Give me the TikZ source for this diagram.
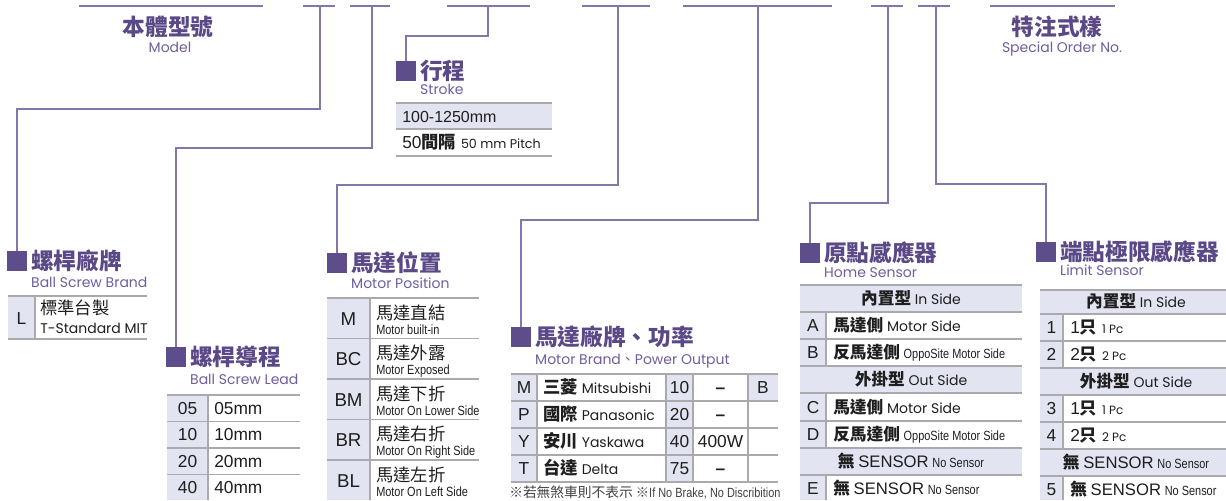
\documentclass[tikz,border=0pt]{standalone}
\usepackage{fontspec}
\setmainfont{Liberation Sans}
\newfontfamily\zh{Noto Sans CJK TC}
\newfontfamily\geo{Poppins}
\newfontfamily\nar[FakeStretch=0.82]{Liberation Sans}
\usepackage{tikz}
\usetikzlibrary{positioning}
\definecolor{headc}{HTML}{5A4887}
\definecolor{subc}{HTML}{6E5E9E}
\definecolor{wirec}{HTML}{8576A9}
\definecolor{boxc}{HTML}{5E4D8B}
\definecolor{rulec}{HTML}{A9A9AE}
\definecolor{palec}{HTML}{E3E4F1}
\definecolor{inkc}{HTML}{1E1E1E}
\newcommand{\fsz}[1]{\fontsize{#1}{#1}\selectfont}
\tikzset{
  topbar/.style={draw=wirec, line width=1.3pt},
  wire/.style={draw=wirec, line width=1.1pt},
  sq/.style={fill=boxc, minimum size=14.5pt, inner sep=0pt},
  vc/.style={text height=#1, text depth=0pt, inner sep=0pt},
  secname/.style={text=headc, font=\zh\bfseries\fsz{17}, vc=12.2pt},
  secsub/.style={text=subc, font=\geo\fsz{10.5}, vc=7.4pt},
  rowrule/.style={draw=rulec, line width=1.1pt},
  colrule/.style={draw=rulec, line width=1.1pt},
  keytxt/.style={text=inkc, font=\fsz{13}, vc=9.4pt},
  cn/.style={text=inkc, font=\zh\fsz{13}, vc=9.4pt},
  en/.style={text=inkc, font=\geo\fsz{10.5}, vc=7.4pt},
  nr/.style={text=inkc, font=\nar\fsz{10}, vc=7.2pt}
}
\newcommand{\Heading}[6]{% name, x, y, chinese, english, gap
  \node[sq] (#1) at (#2,#3) {};
  \node[secname, right=3pt of #1] (#1-zh) {#4};
  \node[secsub, anchor=west] (#1-en) at ([yshift=-#6*0.75pt]#1-zh.west) {#5};
}

\begin{document}
\begin{tikzpicture}[x=0.75pt, y=-0.75pt]
  \useasboundingbox (0,0) rectangle (1226,500);

  % code bars along the top
  \foreach \a/\b in {79/263, 303/335, 350/390, 447/530, 582/650, 683/832, 871/903, 918/950, 990/1115}
    \draw[topbar] (\a,6) -- (\b,6);
  \node[secname] (model-zh) at (168,27) {本體型號};
  \node[secsub] (model-en) at (170,48) {Model};
  \node[secname] (spec-zh) at (1057,27) {特注式樣};
  \node[secsub] (spec-en) at (1062,48) {Special Order No.};

  % section headings
  \Heading{brand}{17}{261}{螺桿廠牌}{Ball Screw Brand}{22}
  \Heading{lead}{176}{357}{螺桿導程}{Ball Screw Lead}{23}
  \Heading{stroke}{406}{71}{行程}{Stroke}{19}
  \Heading{mpos}{337}{263}{馬達位置}{Motor Position}{21}
  \Heading{mbrand}{521}{337}{馬達廠牌、功率}{Motor Brand{\zh 、}Power Output}{23}
  \Heading{home}{810}{253}{原點感應器}{Home Sensor}{20}
  \Heading{limit}{1046}{252}{端點極限感應器}{Limit Sensor}{19}

  % drops from the bars
  \coordinate (t-brand) at (320,6);
  \coordinate (t-lead) at (372,6);
  \coordinate (t-stroke) at (488,6);
  \coordinate (t-mpos) at (618,6);
  \coordinate (t-mbrand) at (758,6);
  \coordinate (t-home) at (888,6);
  \coordinate (t-limit) at (936,6);
  \draw[wire] (t-brand) -- ++(0,103) -| (brand.north);
  \draw[wire] (t-lead) -- ++(0,142) -| (lead.north);
  \draw[wire] (t-stroke) -- ++(0,30) -| (stroke.north);
  \draw[wire] (t-mpos) -- ++(0,179) -| (mpos.north);
  \draw[wire] (t-mbrand) -- ++(0,214) -| (mbrand.north);
  \draw[wire] (t-home) -- ++(0,197) -| (home.north);
  \draw[wire] (t-limit) -- ++(0,178) -| (limit.north);

  % ball screw brand
  \fill[palec] (8,296) rectangle (35,339);
  \draw[rowrule] (8,296) -- (147,296) (8,339) -- (147,339);
  \draw[colrule] (35,296) -- (35,339);
  \node[keytxt] (brand-k) at (21.5,318) {L};
  \node[cn, anchor=west] (brand-c) at (40,308) {標準台製};
  \node[en, anchor=west] (brand-e) at (40,329) {T-Standard MIT};

  % ball screw lead
  \fill[palec] (167,395) rectangle (208,500);
  \foreach \y in {395,421.5,448,474.5} \draw[rowrule] (167,\y) -- (300,\y);
  \draw[colrule] (208,395) -- (208,500);
  \foreach \v [count=\i] in {05,10,20,40} {
    \node[keytxt] (lead-k\i) at (187.5,{408+26.5*(\i-1)}) {\v};
    \node[keytxt, anchor=west] (lead-v\i) at (214,{408+26.5*(\i-1)}) {\v mm};
  }

  % stroke
  \fill[palec] (396,103) rectangle (552,129);
  \foreach \y in {103,129,156} \draw[rowrule] (396,\y) -- (552,\y);
  \node[keytxt, anchor=west, font=\fsz{12}] (stroke-r1) at (402,116) {100-1250mm};
  \node[keytxt, anchor=west] (stroke-r2) at (402,142.5) {50{\zh\bfseries 間隔} {\geo\fsz{9.5}50 mm Pitch}};

  % motor position
  \fill[palec] (327,298) rectangle (370,500);
  \foreach \y in {298,338.5,379,419.5,460} \draw[rowrule] (327,\y) -- (479,\y);
  \draw[colrule] (370,298) -- (370,500);
  \foreach \k/\c/\e [count=\i] in {M/馬達直結/Motor built-in, BC/馬達外露/Motor Exposed,
      BM/馬達下折/Motor On Lower Side, BR/馬達右折/Motor On Right Side, BL/馬達左折/Motor On Left Side} {
    \node[keytxt, font=\fsz{14}] (mpos-k\i) at (348.5,{319+40.5*(\i-1)}) {\k};
    \node[cn, anchor=west] (mpos-c\i) at (376,{313+40.5*(\i-1)}) {\c};
    \node[nr, anchor=west] (mpos-e\i) at (376,{329.5+40.5*(\i-1)}) {\e};
  }

  % motor brand and power
  \fill[palec] (511,374) rectangle (537,482);
  \fill[palec] (666,374) rectangle (693,482);
  \fill[palec] (748,374) rectangle (778,401);
  \foreach \y in {374,401,428,455,482} \draw[rowrule] (511,\y) -- (778,\y);
  \foreach \x in {537,666,693,748} \draw[colrule] (\x,374) -- (\x,482);
  \foreach \k/\c/\e/\n/\w [count=\i] in {M/三菱/Mitsubishi/10/{\bfseries --}, P/國際/Panasonic/20/{\bfseries --},
      Y/安川/Yaskawa/40/400W, T/台達/Delta/75/{\bfseries --}} {
    \node[keytxt] (mbrand-k\i) at (524,{387.5+27*(\i-1)}) {\k};
    \node[cn, anchor=west] (mbrand-c\i) at (543,{387.5+27*(\i-1)}) {{\bfseries\c} {\geo\fsz{10.5}\e}};
    \node[keytxt] (mbrand-n\i) at (679.5,{387.5+27*(\i-1)}) {\n};
    \node[keytxt] (mbrand-w\i) at (720.5,{387.5+27*(\i-1)}) {\w};
  }
  \node[keytxt] (mbrand-b) at (763,387.5) {B};
  \node[nr, anchor=west, text=black!75] (mbrand-note) at (509,493)
    {{\zh\fsz{10.3}※若無煞車則不表示} {\zh\fsz{10}※}If No Brake, No Discribition};

  % home sensor
  \foreach \t/\b in {285/312, 366/393, 448/475} \fill[palec] (800,\t) rectangle (1022,\b);
  \foreach \t/\b in {312/366, 393/448, 475/500} {
    \fill[palec] (800,\t) rectangle (826,\b);
    \draw[colrule] (826,\t) -- (826,\b);
  }
  \foreach \y in {285,312,339,366,393,421,448,475} \draw[rowrule] (800,\y) -- (1022,\y);
  \node[cn, font=\zh\fsz{12.5}] (home-h1) at (911,298.5) {{\bfseries 內置型} {\geo\fsz{10.5}In Side}};
  \node[cn, font=\zh\fsz{12.5}] (home-h2) at (911,379.5) {{\bfseries 外掛型} {\geo\fsz{10.5}Out Side}};
  \node[cn, font=\zh\fsz{12.5}] (home-h3) at (911,461.5) {{\bfseries 無} {\rmfamily\fsz{12.5}SENSOR} {\nar\fsz{10}No Sensor}};
  \foreach \k/\y in {A/325.5, C/407} {
    \node[keytxt] (home-k\k) at (813,\y) {\k};
    \node[cn, anchor=west, font=\zh\fsz{12.5}] (home-t\k) at (833,\y) {{\bfseries 馬達側} {\geo\fsz{10.5}Motor Side}};
  }
  \foreach \k/\y in {B/352.5, D/434.5} {
    \node[keytxt] (home-k\k) at (813,\y) {\k};
    \node[cn, anchor=west, font=\zh\fsz{12.5}] (home-t\k) at (833,\y) {{\bfseries 反馬達側} {\nar\fsz{10}OppoSite Motor Side}};
  }
  \node[keytxt] (home-kE) at (813,488) {E};
  \node[cn, anchor=west, font=\zh\fsz{12.5}] (home-tE) at (833,488) {{\bfseries 無} {\rmfamily\fsz{12.5}SENSOR} {\nar\fsz{10}No Sensor}};

  % limit sensor
  \foreach \t/\b in {290/314, 368/395, 449/476} \fill[palec] (1040,\t) rectangle (1226,\b);
  \foreach \t/\b in {314/368, 395/449, 476/500} {
    \fill[palec] (1040,\t) rectangle (1063,\b);
    \draw[colrule] (1063,\t) -- (1063,\b);
  }
  \foreach \y in {290,314,341,368,395,422,449,476} \draw[rowrule] (1040,\y) -- (1226,\y);
  \node[cn, font=\zh\fsz{12.5}] (limit-h1) at (1136,301) {{\bfseries 內置型} {\geo\fsz{10.5}In Side}};
  \node[cn, font=\zh\fsz{12.5}] (limit-h2) at (1136,381.5) {{\bfseries 外掛型} {\geo\fsz{10.5}Out Side}};
  \node[cn, font=\zh\fsz{12.5}] (limit-h3) at (1136,462.5) {{\bfseries 無} {\rmfamily\fsz{12.5}SENSOR} {\nar\fsz{10}No Sensor}};
  \foreach \k/\n/\y in {1/1/327.5, 2/2/354.5, 3/1/408.5, 4/2/435.5} {
    \node[keytxt] (limit-k\k) at (1051.5,\y) {\k};
    \node[keytxt, anchor=west] (limit-t\k) at (1070,\y) {\n{\zh\bfseries 只} {\geo\fsz{9}\n\ Pc}};
  }
  \node[keytxt] (limit-k5) at (1051.5,489) {5};
  \node[cn, anchor=west, font=\zh\fsz{12.5}] (limit-t5) at (1070,489) {{\bfseries 無} {\rmfamily\fsz{12.5}SENSOR} {\nar\fsz{10}No Sensor}};
\end{tikzpicture}
\end{document}
